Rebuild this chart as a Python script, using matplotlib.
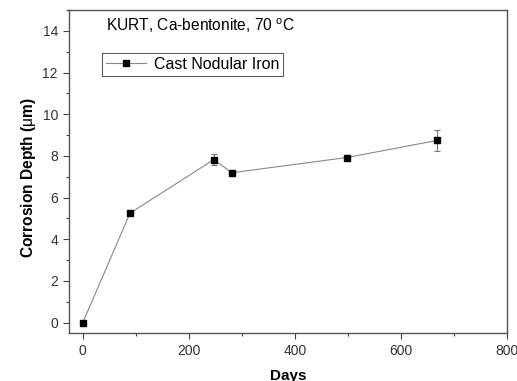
import matplotlib.pyplot as plt
from matplotlib.lines import Line2D
from matplotlib.ticker import MultipleLocator

plt.rcParams['font.family'] = ['Liberation Sans', 'DejaVu Sans']
plt.rcParams['mathtext.fontset'] = 'custom'
plt.rcParams['mathtext.rm'] = 'Liberation Sans'

# data
days = [0, 89, 247, 281, 498, 668]
depth = [0.0, 5.25, 7.82, 7.19, 7.92, 8.74]
depth_err = [0.0, 0.0, 0.25, 0.13, 0.13, 0.5]

fig = plt.figure(figsize=(5.17, 3.81), dpi=100)
ax = fig.add_axes([0.1335, 0.126, 0.8472, 0.8478])

ax.errorbar(days, depth, yerr=depth_err, color='#888888', lw=0.8,
            marker='s', ms=4.5, mfc='black', mec='black',
            ecolor='#777777', elinewidth=0.8, capsize=2.5, capthick=0.8)

ax.set_xlim(-26, 800)
ax.set_ylim(-0.5, 15)
ax.xaxis.set_major_locator(MultipleLocator(200))
ax.xaxis.set_minor_locator(MultipleLocator(100))
ax.yaxis.set_major_locator(MultipleLocator(2))
ax.yaxis.set_minor_locator(MultipleLocator(1))
ax.tick_params(which='both', direction='out', top=False, right=False,
               color='#444444', labelsize=10, labelcolor='#333333')
ax.tick_params(which='major', length=4, width=0.8, pad=4)
ax.tick_params(which='minor', length=2.5, width=0.8)
for s in ax.spines.values():
    s.set_color('#555555')
    s.set_linewidth(1.0)

ax.set_xlabel('Days', fontsize=11, fontweight='bold', labelpad=8)
ax.set_ylabel(r'Corrosion Depth ($\mathrm{\mu}$m)', fontsize=11.2, fontweight='bold')
ax.yaxis.set_label_coords(-0.07, 0.48)

ax.text(0.084, 0.950, r'KURT, Ca-bentonite, 70 $^{\mathrm{o}}$C', transform=ax.transAxes,
        fontsize=11.2, va='center', ha='left')

handle = Line2D([], [], color='#888888', lw=0.8, marker='s', ms=5,
                mfc='black', mec='black')
leg = ax.legend([handle], ['Cast Nodular Iron'], loc='upper left',
                bbox_to_anchor=(0.075, 0.867), fontsize=11.5,
                frameon=True, fancybox=False, handlelength=2.5, borderpad=0.25,
                handletextpad=0.5, borderaxespad=0)
leg.get_frame().set_edgecolor('#333333')
leg.get_frame().set_linewidth(0.8)

fig.savefig('out.png', dpi=100)
